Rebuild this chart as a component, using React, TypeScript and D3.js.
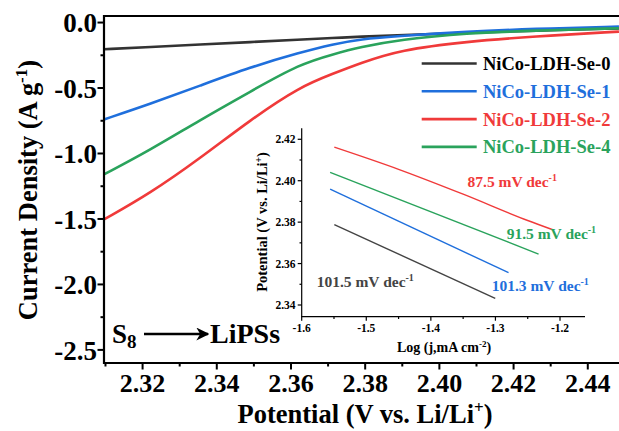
import React from "react";
import * as d3 from "d3";

// ---------- main chart data ----------
const potential = [2.3096, 2.322, 2.3355, 2.349, 2.3624, 2.3714, 2.3786, 2.3894, 2.4074, 2.4253, 2.4484];
const se0 = [-0.204, -0.187, -0.168, -0.149, -0.131, -0.118, -0.108, -0.097, -0.078, -0.062, -0.045];
const se1 = [-0.74, -0.622, -0.482, -0.341, -0.229, -0.165, -0.127, -0.102, -0.069, -0.048, -0.031];
const se2 = [-1.504, -1.305, -1.037, -0.744, -0.49, -0.39, -0.311, -0.209, -0.145, -0.107, -0.069];
const se4 = [-1.16, -0.974, -0.744, -0.528, -0.316, -0.242, -0.188, -0.13, -0.081, -0.062, -0.043];

const seriesNames = ["NiCo-LDH-Se-0", "NiCo-LDH-Se-1", "NiCo-LDH-Se-2", "NiCo-LDH-Se-4"];
const seriesColors = ["#333333", "#1f6fdc", "#f03a3a", "#2aa35c"];
const mainSeries = [se0, se1, se2, se4];

const xTicks = [2.32, 2.34, 2.36, 2.38, 2.40, 2.42, 2.44];
const yTicks = [0, -0.5, -1.0, -1.5, -2.0, -2.5];

// ---------- inset (Tafel) data ----------
const tafelLog0 = [-1.5495, -1.3003];
const tafelV0 = [2.3788, 2.3432];
const tafelLog1 = [-1.556, -1.2797];
const tafelV1 = [2.3959, 2.3556];
const tafelLog2 = [-1.5495, -1.45, -1.35, -1.25, -1.21];
const tafelV2 = [2.4162, 2.4055, 2.3935, 2.3808, 2.3762];
const tafelLog4 = [-1.556, -1.2332];
const tafelV4 = [2.404, 2.3646];
const tafelLabels = ["101.5", "101.3", "87.5", "91.5"];
const insetXTicks = [-1.6, -1.5, -1.4, -1.3, -1.2];
const insetYTicks = [2.34, 2.36, 2.38, 2.40, 2.42];

const FONT = "'Liberation Serif', 'Times New Roman', serif";

export default function App() {
  const W = 619, H = 431;
  const x = d3.scaleLinear().domain([2.3096, 2.45]).range([104, 104 + 0.1404 * 3710]);
  const y = d3.scaleLinear().domain([-2.6, 0.05]).range([363, 16]);
  const line = d3
    .line<[number, number]>()
    .x((d) => x(d[0]))
    .y((d) => y(d[1]))
    .curve(d3.curveBasis);

  const ix = d3.scaleLinear().domain([-1.6, -1.1613]).range([301.7, 585]);
  const iy = d3.scaleLinear().domain([2.33435, 2.4253]).range([316.7, 128.3]);
  const iline = d3
    .line<[number, number]>()
    .x((d) => ix(d[0]))
    .y((d) => iy(d[1]))
    .curve(d3.curveMonotoneX);

  const xMinor = d3.range(2.31, 2.451, 0.01).filter((v) => !xTicks.some((t) => Math.abs(t - v) < 1e-6));
  const yMinor = d3.range(-2.5, 0.01, 0.25).filter((v) => !yTicks.some((t) => Math.abs(t - v) < 1e-6));
  const ixMinor = d3.range(-1.55, -1.16, 0.1);
  const iyMinor = d3.range(2.35, 2.42, 0.02);

  const tafel = [
    { log: tafelLog0, v: tafelV0 },
    { log: tafelLog1, v: tafelV1 },
    { log: tafelLog2, v: tafelV2 },
    { log: tafelLog4, v: tafelV4 },
  ];
  const tafelPos = [
    { x: 316.7, y: 286.7, c: "#444444" },
    { x: 491.7, y: 290.5, c: "#1f6fdc" },
    { x: 467.5, y: 186.5, c: "#f03a3a" },
    { x: 506.7, y: 238.5, c: "#2aa35c" },
  ];

  const xLeft = 104, xRight = 619, yTop = 16, yBot = 363;

  return (
    <svg
      width={W}
      height={H}
      style={{ position: "absolute", left: 0, top: 0, background: "#fff" }}
      fontFamily={FONT}
      fontWeight="bold"
    >
      <rect width={W} height={H} fill="#fff" />
      {/* main curves */}
      {mainSeries.map((s, i) => (
        <path
          key={i}
          d={line(potential.map((p, k) => [p, s[k]] as [number, number])) || ""}
          fill="none"
          stroke={seriesColors[i]}
          strokeWidth={2.6}
        />
      ))}
      {/* frame */}
      <line x1={xLeft} x2={xRight + 2} y1={yTop} y2={yTop} stroke="#000" strokeWidth={2.2} />
      <line x1={xLeft} x2={xLeft} y1={yTop - 1} y2={yBot + 1} stroke="#000" strokeWidth={2.2} />
      <line x1={xLeft - 1} x2={xRight + 2} y1={yBot} y2={yBot} stroke="#000" strokeWidth={2.2} />
      {/* y ticks */}
      {yTicks.map((t) => (
        <g key={t}>
          <line x1={xLeft - 6.5} x2={xLeft} y1={y(t)} y2={y(t)} stroke="#000" strokeWidth={2} />
          <text x={97} y={y(t)} dy="0.36em" textAnchor="end" fontSize={27}>
            {t.toFixed(1)}
          </text>
        </g>
      ))}
      {yMinor.map((t) => (
        <line key={t} x1={xLeft - 3.5} x2={xLeft} y1={y(t)} y2={y(t)} stroke="#000" strokeWidth={2} />
      ))}
      {/* x ticks */}
      {xTicks.map((t) => (
        <g key={t}>
          <line x1={x(t)} x2={x(t)} y1={yBot} y2={yBot + 6.5} stroke="#000" strokeWidth={2} />
          <text x={x(t)} y={392} textAnchor="middle" fontSize={26}>
            {t.toFixed(2)}
          </text>
        </g>
      ))}
      {xMinor.map((t) => (
        <line key={t} x1={x(t)} x2={x(t)} y1={yBot} y2={yBot + 3.5} stroke="#000" strokeWidth={2} />
      ))}
      {/* axis titles */}
      <text x={365} y={423} textAnchor="middle" fontSize={26.5}>
        Potential (V vs. Li/Li
        <tspan fontSize={17} dy={-10}>+</tspan>
        <tspan dy={10}>)</tspan>
      </text>
      <text transform="translate(37,190) rotate(-90)" textAnchor="middle" fontSize={26.5}>
        Current Density (A g
        <tspan fontSize={17} dy={-10}>-1</tspan>
        <tspan dy={10}>)</tspan>
      </text>
      {/* legend */}
      {seriesNames.map((n, i) => {
        const ly = 63.5 + i * 27.8;
        return (
          <g key={n}>
            <line x1={421.7} x2={476.7} y1={ly} y2={ly} stroke={seriesColors[i]} strokeWidth={2.6} />
            <text x={483} y={ly} dy="0.35em" fontSize={18.5} fill={i === 0 ? "#000" : seriesColors[i]}>
              {n}
            </text>
          </g>
        );
      })}
      {/* S8 -> LiPSs */}
      <text x={112} y={343} fontSize={27}>
        S<tspan fontSize={19} dy={5}>8</tspan>
      </text>
      <defs>
        <marker id="arr" viewBox="0 0 10 10" refX={9} refY={5} markerWidth={5} markerHeight={5} orient="auto">
          <path d="M0,0 L10,5 L0,10 L3,5 z" fill="#000" />
        </marker>
      </defs>
      <line x1={144} x2={208} y1={334} y2={334} stroke="#000" strokeWidth={2.6} markerEnd="url(#arr)" />
      <text x={210} y={343} fontSize={28}>
        LiPSs
      </text>

      {/* ---------- inset ---------- */}
      {tafel.map((s, i) => (
        <path
          key={i}
          d={iline(s.log.map((l, k) => [l, s.v[k]] as [number, number])) || ""}
          fill="none"
          stroke={i === 0 ? "#444444" : seriesColors[i]}
          strokeWidth={1.4}
        />
      ))}
      <line x1={301.7} x2={301.7} y1={128.3} y2={316.7} stroke="#000" strokeWidth={1.2} />
      <line x1={301.1} x2={585} y1={316.7} y2={316.7} stroke="#000" strokeWidth={1.2} />
      {insetYTicks.map((t) => (
        <g key={t}>
          <line x1={297.7} x2={301.7} y1={iy(t)} y2={iy(t)} stroke="#000" strokeWidth={1.2} />
          <text x={295.5} y={iy(t)} dy="0.35em" textAnchor="end" fontSize={11.5}>
            {t.toFixed(2)}
          </text>
        </g>
      ))}
      {iyMinor.map((t) => (
        <line key={t} x1={299.5} x2={301.7} y1={iy(t)} y2={iy(t)} stroke="#000" strokeWidth={1.2} />
      ))}
      {insetXTicks.map((t) => (
        <g key={t}>
          <line x1={ix(t)} x2={ix(t)} y1={316.7} y2={320.7} stroke="#000" strokeWidth={1.2} />
          <text x={ix(t)} y={332} textAnchor="middle" fontSize={11.5}>
            {t.toFixed(1)}
          </text>
        </g>
      ))}
      {ixMinor.map((t) => (
        <line key={t} x1={ix(t)} x2={ix(t)} y1={316.7} y2={319} stroke="#000" strokeWidth={1.2} />
      ))}
      <text x={444} y={352} textAnchor="middle" fontSize={14}>
        Log (j,mA cm
        <tspan fontSize={9} dy={-5}>-2</tspan>
        <tspan dy={5}>)</tspan>
      </text>
      <text transform="translate(267,222) rotate(-90)" textAnchor="middle" fontSize={14.5}>
        Potential (V vs. Li/Li
        <tspan fontSize={9.5} dy={-5}>+</tspan>
        <tspan dy={5}>)</tspan>
      </text>
      {tafelPos.map((p, i) => (
        <text key={i} x={p.x} y={p.y} fontSize={15.5} fill={p.c}>
          {tafelLabels[i]} mV dec
          <tspan fontSize={10} dy={-6}>-1</tspan>
        </text>
      ))}
    </svg>
  );
}
